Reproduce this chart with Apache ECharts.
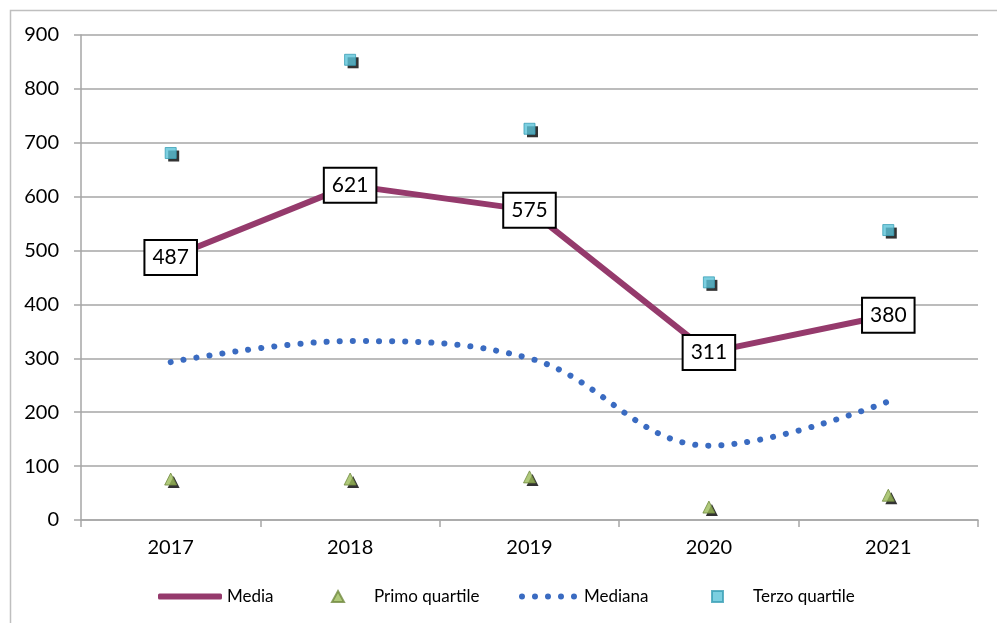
<!DOCTYPE html>
<html>
<head>
<meta charset="utf-8">
<script src="https://cdn.jsdelivr.net/npm/echarts@6/dist/echarts.min.js"></script>
<style>
  html, body { margin: 0; padding: 0; background: #fff; }
  #chart { width: 997px; height: 623px; }
</style>
</head>
<body>
<div id="chart"></div>
<script>
// dati
const anni = ['2017', '2018', '2019', '2020', '2021']
const media = [487, 621, 575, 311, 380]
const primoQuartile = [76, 76, 80, 24, 46]
const mediana = [293, 332, 300, 138, 220]
const terzoQuartile = [681, 854, 726, 441, 538]
const yTicks = { min: 0, max: 900, interval: 100 }

const FONT = 'Lato, "Open Sans", sans-serif'
const GRID_COLOR = '#a6a6a6'

let chart = echarts.init(document.getElementById('chart'))

let legendText = { fontFamily: FONT, fontSize: 17, color: '#000' }

let dotsIcon = 'path://M3,0A3,3,0,1,1,2.99,0ZM16,0A3,3,0,1,1,15.99,0ZM29,0A3,3,0,1,1,28.99,0ZM42,0A3,3,0,1,1,41.99,0ZM55,0A3,3,0,1,1,54.99,0Z'

// ombra nera dei marcatori, disegnata come serie sfalsata
function ombra (data, symbol, size) {
  return {
    type: 'scatter',
    data: data,
    symbol: symbol,
    symbolSize: size,
    symbolOffset: [3, 3],
    itemStyle: { color: '#000' },
    silent: true,
    z: 3
  }
}

chart.setOption({
  animation: false,
  backgroundColor: '#fff',
  graphic: [{
    type: 'rect',
    shape: { x: 10.5, y: 10.5, width: 1100, height: 800 },
    style: { fill: 'none', stroke: '#bfbfbf', lineWidth: 1.5 },
    silent: true
  }],
  grid: { left: 81, right: 19, top: 35, bottom: 103 },
  legend: [
    {
      data: ['Media'], left: 153, top: 583, itemWidth: 64, itemHeight: 6,
      icon: 'roundRect', textStyle: legendText
    },
    {
      data: ['Primo quartile'], left: 326, top: 583, itemWidth: 12, itemHeight: 11,
      textStyle: Object.assign({ padding: [0, 0, 0, 25] }, legendText)
    },
    {
      data: ['Mediana'], left: 514, top: 583, itemWidth: 62, itemHeight: 6,
      icon: dotsIcon, textStyle: legendText
    },
    {
      data: ['Terzo quartile'], left: 706, top: 583, itemWidth: 11, itemHeight: 11,
      textStyle: Object.assign({ padding: [0, 0, 0, 25] }, legendText)
    }
  ],
  xAxis: {
    type: 'category',
    data: anni,
    boundaryGap: true,
    axisLine: { lineStyle: { color: GRID_COLOR, width: 1.5 } },
    axisTick: { show: true, length: 7, lineStyle: { color: GRID_COLOR, width: 1.5 } },
    axisLabel: { fontFamily: FONT, fontSize: 20, color: '#000', margin: 18 }
  },
  yAxis: {
    type: 'value',
    min: yTicks.min,
    max: yTicks.max,
    interval: yTicks.interval,
    axisLine: { show: true, lineStyle: { color: GRID_COLOR, width: 1.5 } },
    axisTick: { show: true, length: 7, lineStyle: { color: GRID_COLOR, width: 1.5 } },
    axisLabel: { fontFamily: FONT, fontSize: 20, color: '#000', margin: 22 },
    splitLine: { lineStyle: { color: GRID_COLOR, width: 1.5 } }
  },
  series: [
    {
      name: 'Mediana',
      type: 'line',
      data: mediana,
      smooth: 0.38,
      symbol: 'none',
      itemStyle: { color: '#3a6bc1' },
      lineStyle: { color: '#3a6bc1', width: 6, type: [0.1, 13], cap: 'round' },
      z: 2
    },
    {
      name: 'Media',
      type: 'line',
      data: media,
      symbol: 'circle',
      symbolSize: 2,
      showSymbol: true,
      itemStyle: { color: '#953a6c' },
      lineStyle: { color: '#953a6c', width: 6 },
      label: {
        show: true,
        position: 'inside',
        fontFamily: FONT,
        fontSize: 21,
        color: '#000',
        backgroundColor: '#fff',
        borderColor: '#000',
        borderWidth: 2,
        padding: [7, 7, 5, 7]
      },
      z: 5
    },
    ombra(primoQuartile, 'triangle', 12),
    ombra(terzoQuartile, 'rect', 11),
    {
      name: 'Primo quartile',
      type: 'scatter',
      data: primoQuartile,
      symbol: 'triangle',
      symbolSize: 12,
      itemStyle: { color: '#9bbb59', borderColor: '#71893f', borderWidth: 1 },
      z: 4
    },
    {
      name: 'Terzo quartile',
      type: 'scatter',
      data: terzoQuartile,
      symbol: 'rect',
      symbolSize: 11,
      itemStyle: { color: '#5bc3d8', borderColor: '#3a9fb5', borderWidth: 1 },
      z: 4
    }
  ]
})
</script>
</body>
</html>
